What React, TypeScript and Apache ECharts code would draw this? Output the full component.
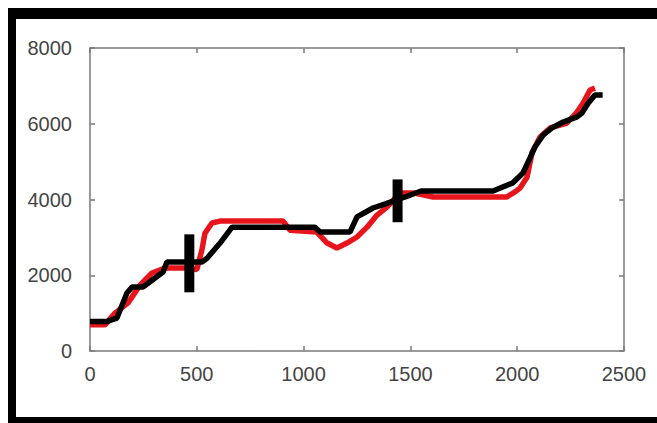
import React, { useEffect, useRef } from "react";
import * as echarts from "echarts";

const xTicks = [0, 500, 1000, 1500, 2000, 2500];
const yTicks = [0, 2000, 4000, 6000, 8000];

const redSeries: [number, number][] = [
  [0, 690], [70, 690], [117, 1000], [178, 1270], [234, 1740], [290, 2060],
  [351, 2190], [445, 2190], [500, 2150], [524, 2670], [538, 3110], [571, 3380],
  [609, 3430], [904, 3430], [936, 3190], [1062, 3140], [1110, 2850], [1156, 2720],
  [1203, 2850], [1250, 3010], [1297, 3270], [1344, 3590], [1390, 3800],
  [1450, 4170], [1520, 4170], [1606, 4065], [1950, 4065], [1990, 4200],
  [2013, 4300], [2046, 4590], [2070, 5250], [2107, 5650], [2154, 5890],
  [2233, 6020], [2280, 6310], [2308, 6540], [2341, 6890], [2364, 6940],
];

const blackSeries: [number, number][] = [
  [0, 780], [80, 780], [126, 870], [173, 1530], [197, 1690], [248, 1690],
  [342, 2085], [360, 2350], [524, 2350], [548, 2450], [609, 2850], [665, 3270],
  [1053, 3270], [1077, 3140], [1217, 3140], [1250, 3540], [1325, 3775],
  [1390, 3900], [1440, 4000], [1500, 4118], [1550, 4224], [1887, 4224],
  [1980, 4440], [2027, 4700], [2060, 5100], [2083, 5385], [2121, 5700],
  [2163, 5890], [2215, 6045], [2280, 6180], [2303, 6280], [2332, 6540],
  [2364, 6760], [2400, 6760],
];

const markerA: [number, number][] = [[465, 1550], [465, 3080]];
const markerB: [number, number][] = [[1440, 3400], [1440, 4530]];

export default function App() {
  const ref = useRef<HTMLDivElement>(null);
  useEffect(() => {
    document.body.style.margin = "0";
    if (!ref.current) return;
    const chart = echarts.init(ref.current, null, { renderer: "svg" });
    const axisLine = { show: true, onZero: false, lineStyle: { color: "#7a7a7a", width: 1.5 } };
    const axisTick = { show: true, inside: true, length: 5, lineStyle: { color: "#7a7a7a", width: 1.5 } };
    const font = "'Liberation Sans', Arial, sans-serif";
    const fmt = (v: number) => String(v);
    chart.setOption({
      animation: false,
      backgroundColor: "#ffffff",
      grid: { left: 90, right: 33, top: 48, bottom: 72 },
      xAxis: [
        {
          type: "value", min: 0, max: 2500, interval: 500, position: "bottom",
          axisLine, axisTick, splitLine: { show: false },
          axisLabel: { color: "#444", fontSize: 20, fontFamily: font, margin: 13, formatter: fmt, customValues: xTicks },
        },
        {
          type: "value", min: 0, max: 2500, interval: 500, position: "top",
          axisLine, axisTick, splitLine: { show: false },
          axisLabel: { show: false },
        },
      ],
      yAxis: [
        {
          type: "value", min: 0, max: 8000, interval: 2000, position: "left",
          axisLine, axisTick, splitLine: { show: false },
          axisLabel: { color: "#444", fontSize: 20, fontFamily: font, margin: 18, formatter: fmt, customValues: yTicks },
        },
        {
          type: "value", min: 0, max: 8000, interval: 2000, position: "right",
          axisLine, axisTick, splitLine: { show: false },
          axisLabel: { show: false },
        },
      ],
      series: [
        { type: "line", data: redSeries, symbol: "none", lineStyle: { color: "#e8141c", width: 5.5 } },
        { type: "line", data: blackSeries, symbol: "none", lineStyle: { color: "#000000", width: 5.5 } },
        { type: "line", data: markerA, symbol: "none", lineStyle: { color: "#000000", width: 10, cap: "butt" } },
        { type: "line", data: markerB, symbol: "none", lineStyle: { color: "#000000", width: 10, cap: "butt" } },
      ],
      graphic: [
        { type: "rect", shape: { x: 8, y: 8, width: 649, height: 11 }, style: { fill: "#000" } },
        { type: "rect", shape: { x: 8, y: 8, width: 8, height: 415 }, style: { fill: "#000" } },
        { type: "rect", shape: { x: 8, y: 417, width: 649, height: 6 }, style: { fill: "#000" } },
      ],
    });
    return () => chart.dispose();
  }, []);
  return <div ref={ref} style={{ width: 657, height: 423 }} />;
}
